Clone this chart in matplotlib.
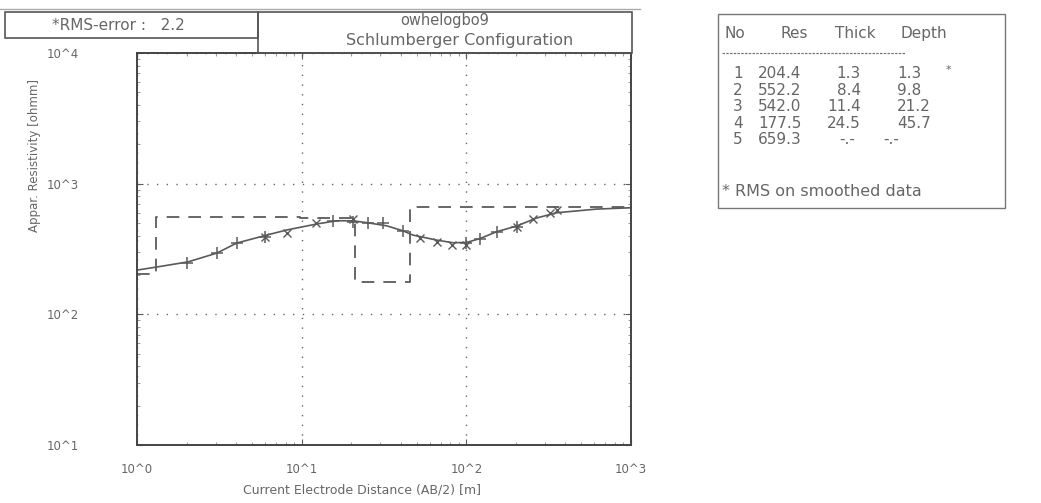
import matplotlib
matplotlib.use("Agg")
import matplotlib.pyplot as plt
from matplotlib.patches import Rectangle
from matplotlib.lines import Line2D

# ---- data ----
layer_no = [1, 2, 3, 4, 5]
layer_res = [204.4, 552.2, 542.0, 177.5, 659.3]
layer_thick = [1.3, 8.4, 11.4, 24.5]
layer_depth = [1.3, 9.8, 21.2, 45.7]

calc_ab2 = [1.0, 1.34, 2.04, 3.05, 4.03, 6.13, 8.11, 12.3, 16.3, 20.5, 25.9, 32.8,
            41.2, 47.4, 66.0, 83.0, 100.5, 121, 153, 202, 267, 354, 618, 1000]
calc_rho = [218, 231, 252, 294, 351, 404, 442, 491, 520, 520, 499, 476,
            436, 404, 370, 353, 355, 380, 429, 474, 546, 599, 639, 654]

plus_ab2 = [2.0, 3.05, 4.03, 6.0, 15.5, 20.5, 25.3, 31.2, 41.2, 100, 121, 153, 202]
plus_rho = [248, 293, 353, 388, 520, 510, 497, 497, 436, 354, 375, 429, 468]

x_ab2 = [6.0, 8.1, 12.3, 20.5, 52.3, 66, 81.4, 100, 202, 254, 322, 353]
x_rho = [388, 421, 497, 533, 381, 359, 339, 339, 468, 533, 593, 628]

xticks = [1, 10, 100, 1000]
xticklabels = ["10^0", "10^1", "10^2", "10^3"]
yticks = [10, 100, 1000, 10000]
yticklabels = ["10^1", "10^2", "10^3", "10^4"]

rms_error = 2.2
site_name = "owhelogbo9"
config_name = "Schlumberger Configuration"

# ---- figure ----
W, H = 1041, 503
plt.rcParams['font.family'] = ['DejaVu Sans']
fig = plt.figure(figsize=(W / 100, H / 100), dpi=100)
txt = '#666666'
lc = '#5a5a5a'

def fx(px):
    return px / W

def fy(py):
    return 1 - py / H

ax_l, ax_r, ax_t, ax_b = 137, 631, 53, 445
ax = fig.add_axes([fx(ax_l), fy(ax_b), fx(ax_r - ax_l), (ax_b - ax_t) / H])
ax.set_xscale('log')
ax.set_yscale('log')
ax.set_xlim(1, 1000)
ax.set_ylim(10, 10000)

# model (dashed step)
step_x = [1.0] + layer_depth + [1000]
step_y = layer_res + [layer_res[-1]]
ax.step(step_x, step_y, where='post', color=lc, lw=1.3, ls=(0, (7, 5)))
# calculated curve
ax.plot(calc_ab2, calc_rho, color=lc, lw=1.2)
# measured points
ax.plot(plus_ab2, plus_rho, ls='none', marker='+', ms=9, mew=1.1, color=lc)
ax.plot(x_ab2, x_rho, ls='none', marker='x', ms=5.5, mew=1.0, color=lc)

ax.grid(True, which='major', ls=(0, (1, 6)), color='#666666', lw=1.0)
ax.set_xticks(xticks)
ax.set_xticklabels(xticklabels, color=txt, fontsize=8.5)
ax.set_yticks(yticks)
ax.set_yticklabels(yticklabels, color=txt, fontsize=8.5)
ax.tick_params(axis='both', which='major', direction='in', length=4, color=lc,
               top=True, right=True)
ax.tick_params(axis='both', which='minor', direction='in', length=2, color='#888888',
               top=True, right=True)
ax.tick_params(axis='y', which='major', pad=42)
ax.tick_params(axis='x', which='major', pad=13)
for s in ax.spines.values():
    s.set_color('#444444')
    s.set_linewidth(1.4)

fig.text(fx(362), fy(490), "Current Electrode Distance (AB/2) [m]", ha='center', va='center',
         fontsize=9, color=txt)
fig.text(fx(35), fy(155), "Appar. Resistivity [ohmm]", ha='center', va='center',
         rotation=90, fontsize=8.5, color=txt)

# header boxes
def box(x0, y0, x1, y1, lw=1.2, color='#555555'):
    fig.add_artist(Rectangle((fx(x0), fy(y1)), fx(x1 - x0), (y1 - y0) / H,
                             transform=fig.transFigure, fill=False, lw=lw, ec=color))

fig.add_artist(Line2D([fx(0), fx(640)], [fy(9), fy(9)], transform=fig.transFigure,
                      color='#aaaaaa', lw=1.0))
box(5, 12, 258, 38)
box(258, 12, 632, 53)
fig.text(fx(52), fy(26), f"*RMS-error :   {rms_error}", ha='left', va='center',
         fontsize=11, color=txt)
fig.text(fx(445), fy(20), site_name, ha='center', va='center', fontsize=10.5, color=txt)
fig.text(fx(460), fy(41), config_name, ha='center', va='center', fontsize=11.5, color=txt)

# table
tfs = 11
box(718, 14, 1005, 208, lw=1.0, color='#777777')
fig.text(fx(725), fy(33), "No", ha='left', va='center', fontsize=tfs, color=txt)
fig.text(fx(780), fy(33), "Res", ha='left', va='center', fontsize=tfs, color=txt)
fig.text(fx(835), fy(33), "Thick", ha='left', va='center', fontsize=tfs, color=txt)
fig.text(fx(900), fy(33), "Depth", ha='left', va='center', fontsize=tfs, color=txt)
fig.add_artist(Line2D([fx(722), fx(905)], [fy(53), fy(53)], transform=fig.transFigure,
                      color='#777777', lw=0.9, ls=(0, (2, 1))))
row_y = [74, 90.5, 107, 123.5, 140]
for i, n in enumerate(layer_no):
    yy = fy(row_y[i])
    fig.text(fx(738), yy, str(n), ha='center', va='center', fontsize=tfs, color=txt)
    fig.text(fx(758), yy, f"{layer_res[i]:.1f}", ha='left', va='center', fontsize=tfs, color=txt)
    if i < len(layer_thick):
        fig.text(fx(861), yy, f"{layer_thick[i]:.1f}", ha='right', va='center', fontsize=tfs, color=txt)
        fig.text(fx(897), yy, f"{layer_depth[i]:.1f}", ha='left', va='center', fontsize=tfs, color=txt)
    else:
        fig.text(fx(847), yy, "-.-", ha='center', va='center', fontsize=tfs, color=txt)
        fig.text(fx(891), yy, "-.-", ha='center', va='center', fontsize=tfs, color=txt)
fig.text(fx(948), fy(70), "*", ha='center', va='center', fontsize=8, color=txt)
fig.text(fx(722), fy(192), "* RMS on smoothed data", ha='left', va='center', fontsize=11.5, color=txt)

fig.savefig("out.png", dpi=100, facecolor='white')
